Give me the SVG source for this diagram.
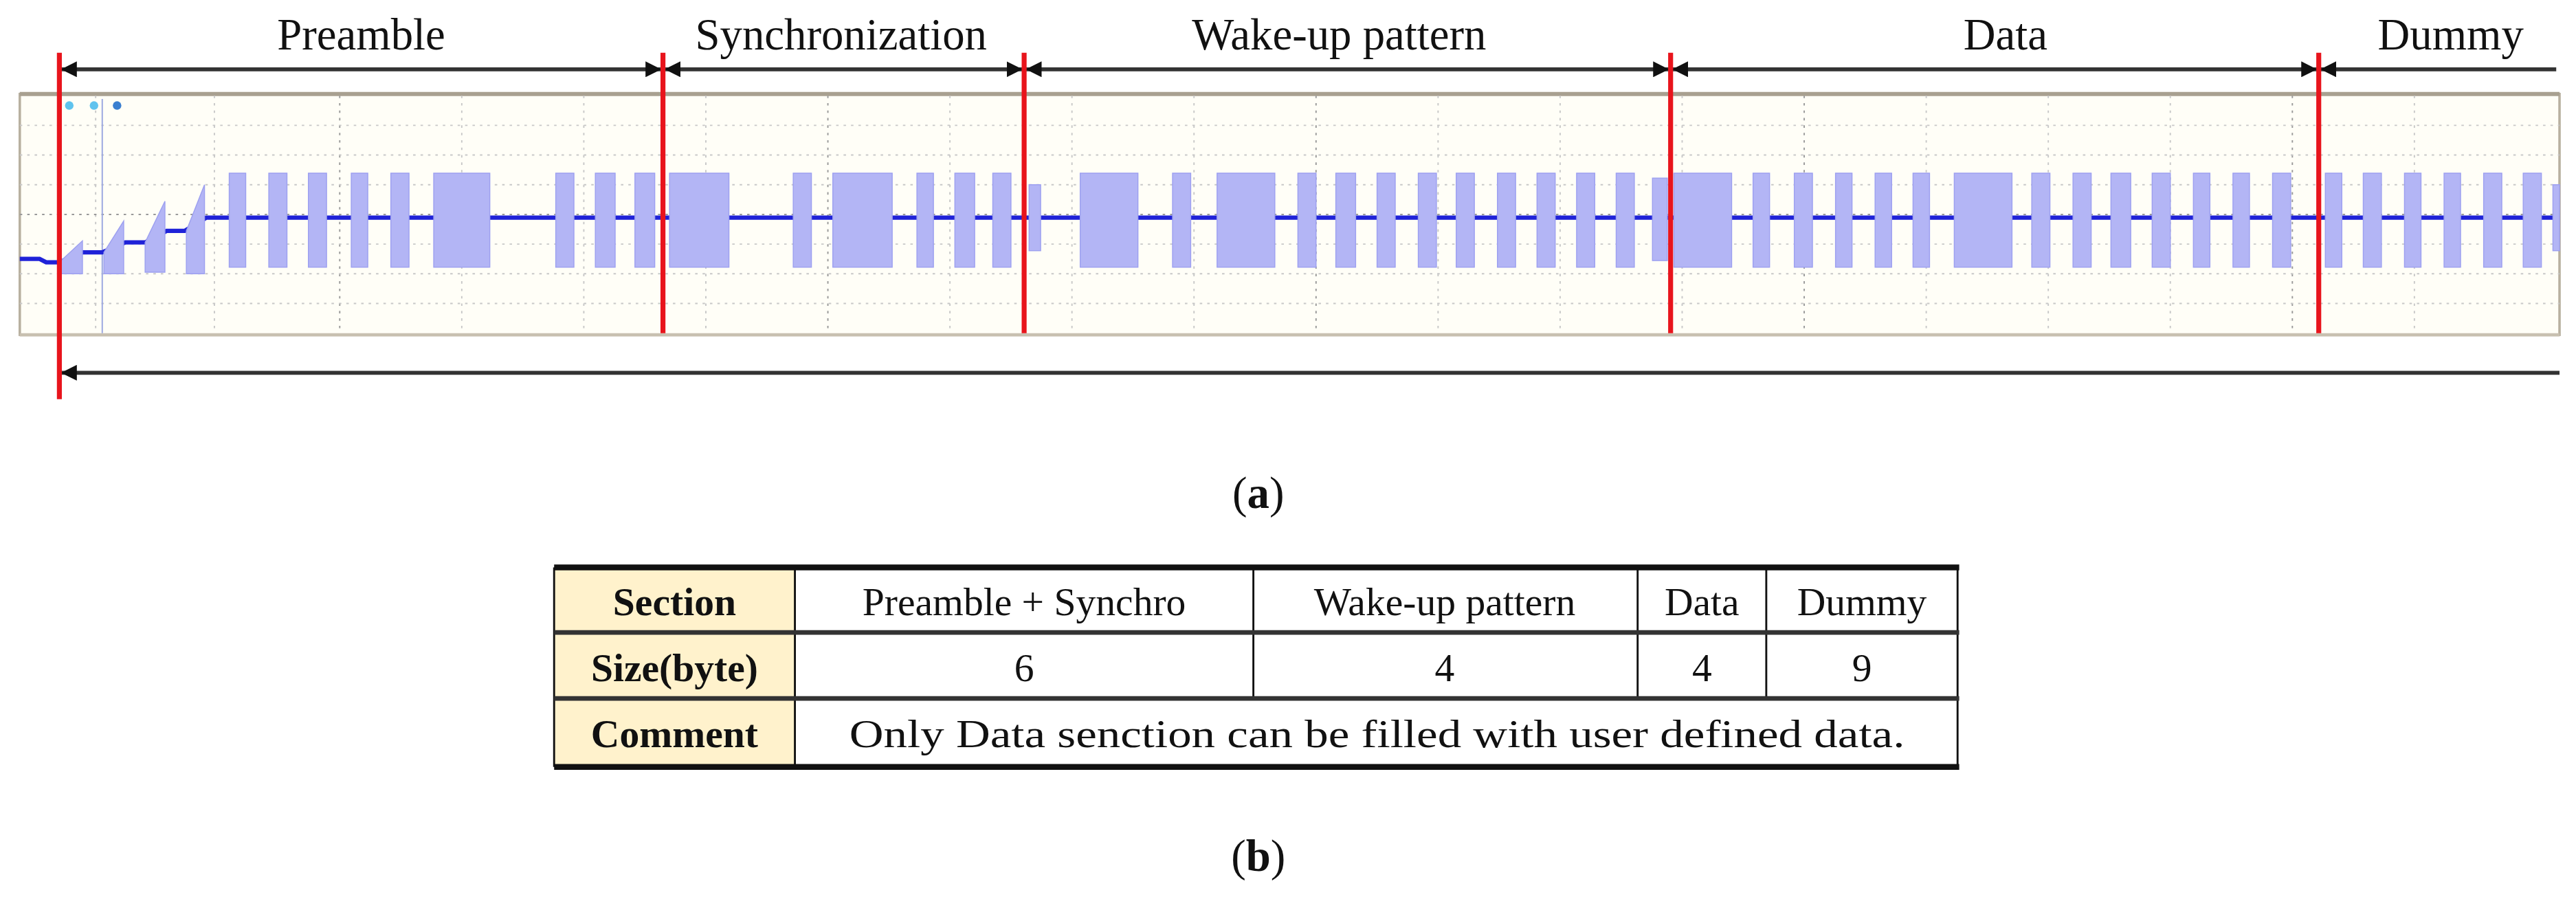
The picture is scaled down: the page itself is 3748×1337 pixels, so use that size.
<svg xmlns="http://www.w3.org/2000/svg" width="3748" height="1337" viewBox="0 0 3748 1337">
<style>
.t{font-family:"Liberation Serif",serif;fill:#111}
.red{stroke:#e8141c;stroke-width:3}
.arr{stroke:#333;stroke-width:2.4;fill:none}
.grid{stroke:#c8c8c8;stroke-width:0.8;stroke-dasharray:1.5 3}
.b{fill:#b3b5f5;stroke:#9da0f0;stroke-width:0.6}
.cell{fill:none;stroke:#111;stroke-width:1.2}
</style>
<defs>
<marker id="ah" viewBox="0 0 10 10" refX="10" refY="5" markerWidth="4" markerHeight="4" orient="auto-start-reverse"><path d="M0,0L10,5L0,10z" fill="#111"/></marker>
</defs>
<rect width="3748" height="1337" fill="#fff"/>
<g transform="scale(2.3995)">
<g id="titles" class="t" font-size="27" text-anchor="middle">
<text x="219" y="30">Preamble</text>
<text x="510" y="30">Synchronization</text>
<text x="812" y="30">Wake-up pattern</text>
<text x="1216" y="30">Data</text>
<text x="1486" y="30">Dummy</text>
</g>
<g id="scope">
<rect x="12" y="57" width="1540" height="146" fill="#fffef7" stroke="#b8b0a0" stroke-width="1.5"/>
<line x1="12" y1="57" x2="1552" y2="57" stroke="#a8a090" stroke-width="2.5"/>
<line x1="12" y1="203" x2="1552" y2="203" stroke="#c8c0b0" stroke-width="2"/>
<g class="grid">
<line x1="58" y1="58" x2="58" y2="202"/><line x1="130" y1="58" x2="130" y2="202"/><line x1="206" y1="58" x2="206" y2="202" stroke="#999"/><line x1="280" y1="58" x2="280" y2="202"/><line x1="354" y1="58" x2="354" y2="202"/><line x1="428" y1="58" x2="428" y2="202"/><line x1="502" y1="58" x2="502" y2="202" stroke="#999"/><line x1="576" y1="58" x2="576" y2="202"/><line x1="650" y1="58" x2="650" y2="202"/><line x1="724" y1="58" x2="724" y2="202"/><line x1="798" y1="58" x2="798" y2="202" stroke="#999"/><line x1="872" y1="58" x2="872" y2="202"/><line x1="946" y1="58" x2="946" y2="202"/><line x1="1020" y1="58" x2="1020" y2="202"/><line x1="1094" y1="58" x2="1094" y2="202" stroke="#999"/><line x1="1168" y1="58" x2="1168" y2="202"/><line x1="1242" y1="58" x2="1242" y2="202"/><line x1="1316" y1="58" x2="1316" y2="202"/><line x1="1390" y1="58" x2="1390" y2="202" stroke="#999"/><line x1="1464" y1="58" x2="1464" y2="202"/>
<line x1="12" y1="76" x2="1552" y2="76"/><line x1="12" y1="94" x2="1552" y2="94"/><line x1="12" y1="112" x2="1552" y2="112"/><line x1="12" y1="130" x2="1552" y2="130" stroke="#999"/><line x1="12" y1="148" x2="1552" y2="148"/><line x1="12" y1="166" x2="1552" y2="166"/><line x1="12" y1="184" x2="1552" y2="184"/>
</g>
<line x1="62" y1="60" x2="62" y2="202" stroke="#9aa6e0" stroke-width="0.8"/>
<circle cx="42" cy="64" r="2.6" fill="#5fc3ee"/><circle cx="57" cy="64" r="2.6" fill="#5fc3ee"/><circle cx="71" cy="64" r="2.6" fill="#3a7fd0"/>
</g>
<g id="signal">
<polyline points="12,157 24,157 28,159 36,159 50,153 62,153 76,147 88,147 101,140 112,140 125,132 1552,132" fill="none" stroke="#1f22d8" stroke-width="2.6"/>
<path class="b" d="M36,166L36,159L50,146L50,166z"/>
<path class="b" d="M63,166L63,153L75,134L75,166z"/>
<path class="b" d="M88,165L88,147L100,122L100,165z"/>
<path class="b" d="M113,166L113,140L124,112L124,166z"/>
<g id="bursts">
<rect class="b" x="139" y="105" width="10" height="57"/><rect class="b" x="163" y="105" width="11" height="57"/><rect class="b" x="187" y="105" width="11" height="57"/><rect class="b" x="213" y="105" width="10" height="57"/><rect class="b" x="237" y="105" width="11" height="57"/><rect class="b" x="263" y="105" width="34" height="57"/><rect class="b" x="337" y="105" width="11" height="57"/><rect class="b" x="361" y="105" width="12" height="57"/><rect class="b" x="385" y="105" width="12" height="57"/>
<rect class="b" x="406" y="105" width="36" height="57"/><rect class="b" x="481" y="105" width="11" height="57"/><rect class="b" x="505" y="105" width="36" height="57"/><rect class="b" x="556" y="105" width="10" height="57"/><rect class="b" x="579" y="105" width="12" height="57"/><rect class="b" x="602" y="105" width="11" height="57"/>
<rect class="b" x="624" y="112" width="7" height="40"/><rect class="b" x="655" y="105" width="35" height="57"/><rect class="b" x="711" y="105" width="11" height="57"/><rect class="b" x="738" y="105" width="35" height="57"/><rect class="b" x="787" y="105" width="11" height="57"/><rect class="b" x="810" y="105" width="12" height="57"/><rect class="b" x="835" y="105" width="11" height="57"/><rect class="b" x="860" y="105" width="11" height="57"/><rect class="b" x="883" y="105" width="11" height="57"/><rect class="b" x="908" y="105" width="11" height="57"/><rect class="b" x="932" y="105" width="11" height="57"/><rect class="b" x="956" y="105" width="11" height="57"/><rect class="b" x="980" y="105" width="11" height="57"/><rect class="b" x="1002" y="108" width="9" height="50"/>
<rect class="b" x="1015" y="105" width="35" height="57"/><rect class="b" x="1063" y="105" width="10" height="57"/><rect class="b" x="1088" y="105" width="11" height="57"/><rect class="b" x="1113" y="105" width="10" height="57"/><rect class="b" x="1137" y="105" width="10" height="57"/><rect class="b" x="1160" y="105" width="10" height="57"/><rect class="b" x="1185" y="105" width="35" height="57"/><rect class="b" x="1232" y="105" width="11" height="57"/><rect class="b" x="1257" y="105" width="11" height="57"/><rect class="b" x="1280" y="105" width="12" height="57"/><rect class="b" x="1305" y="105" width="11" height="57"/><rect class="b" x="1330" y="105" width="10" height="57"/><rect class="b" x="1354" y="105" width="10" height="57"/><rect class="b" x="1378" y="105" width="11" height="57"/>
<rect class="b" x="1410" y="105" width="10" height="57"/><rect class="b" x="1433" y="105" width="11" height="57"/><rect class="b" x="1458" y="105" width="10" height="57"/><rect class="b" x="1482" y="105" width="10" height="57"/><rect class="b" x="1506" y="105" width="11" height="57"/><rect class="b" x="1530" y="105" width="11" height="57"/><rect class="b" x="1548" y="112" width="4" height="40"/>
</g>
</g>
<g id="connectors">
<line class="arr" x1="37" y1="42" x2="401" y2="42" marker-start="url(#ah)" marker-end="url(#ah)"/>
<line class="arr" x1="403" y1="42" x2="620" y2="42" marker-start="url(#ah)" marker-end="url(#ah)"/>
<line class="arr" x1="622" y1="42" x2="1012" y2="42" marker-start="url(#ah)" marker-end="url(#ah)"/>
<line class="arr" x1="1014" y1="42" x2="1405" y2="42" marker-start="url(#ah)" marker-end="url(#ah)"/>
<line class="arr" x1="1407" y1="42" x2="1550" y2="42" marker-start="url(#ah)"/>
<line class="arr" x1="37" y1="226" x2="1552" y2="226" marker-start="url(#ah)"/>
</g>
<g id="markers">
<line class="red" x1="36" y1="32" x2="36" y2="242"/>
<line class="red" x1="402" y1="32" x2="402" y2="202"/>
<line class="red" x1="621" y1="32" x2="621" y2="202"/>
<line class="red" x1="1013" y1="32" x2="1013" y2="202"/>
<line class="red" x1="1406" y1="32" x2="1406" y2="202"/>
</g>
<text class="t" x="763" y="308" font-size="27" text-anchor="middle">(<tspan font-weight="bold">a</tspan>)</text>
<g id="table">
<rect x="336" y="344" width="146" height="121" fill="#fff2cc"/>
<line class="cell" x1="482" y1="344" x2="482" y2="465"/>
<line class="cell" x1="760" y1="344" x2="760" y2="424"/>
<line class="cell" x1="993" y1="344" x2="993" y2="424"/>
<line class="cell" x1="1071" y1="344" x2="1071" y2="424"/>
<line class="cell" x1="336" y1="344" x2="336" y2="465"/>
<line class="cell" x1="1187" y1="344" x2="1187" y2="465"/>
<line x1="336" y1="344" x2="1188" y2="344" stroke="#111" stroke-width="3.5"/>
<line x1="336" y1="465" x2="1188" y2="465" stroke="#111" stroke-width="3.5"/>
<line x1="336" y1="383.5" x2="1188" y2="383.5" stroke="#333" stroke-width="2.8"/>
<line x1="336" y1="423.5" x2="1188" y2="423.5" stroke="#333" stroke-width="2.8"/>
<g class="t" font-size="24" text-anchor="middle">
<text x="409" y="373" font-weight="bold">Section</text>
<text x="409" y="413" font-weight="bold">Size(byte)</text>
<text x="409" y="453" font-weight="bold">Comment</text>
<text x="621" y="373">Preamble + Synchro</text>
<text x="876" y="373">Wake-up pattern</text>
<text x="1032" y="373">Data</text>
<text x="1129" y="373">Dummy</text>
<text x="621" y="413">6</text>
<text x="876" y="413">4</text>
<text x="1032" y="413">4</text>
<text x="1129" y="413">9</text>
<text x="835" y="453" textLength="640" lengthAdjust="spacingAndGlyphs">Only Data senction can be filled with user defined data.</text>
</g>
</g>
<text class="t" x="763" y="528" font-size="27" text-anchor="middle">(<tspan font-weight="bold">b</tspan>)</text>
</g>
</svg>
